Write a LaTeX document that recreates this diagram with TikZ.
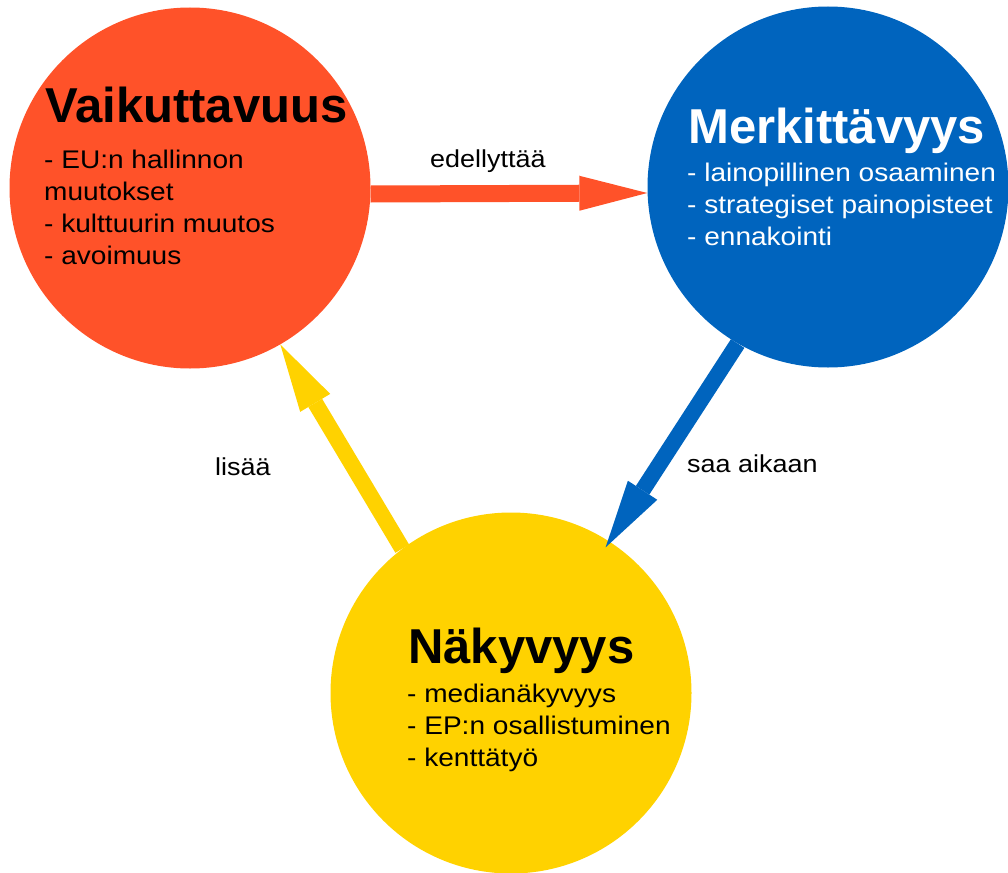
\documentclass[tikz,border=0pt]{standalone}
\usepackage{fontspec}
\setmainfont{Liberation Sans}
\newfontfamily\bodyf[FakeStretch=1.1]{Liberation Sans}
\usetikzlibrary{arrows.meta}
\definecolor{cred}{RGB}{255,82,41}
\definecolor{cblue}{RGB}{0,100,190}
\definecolor{cyellow}{RGB}{255,210,0}
\begin{document}
\begin{tikzpicture}[x=1pt,y=-1pt,
  bubble/.style={circle,minimum size=361pt,inner sep=0pt,draw=none},
  title/.style={anchor=base west,inner sep=0pt,font=\bfseries\fontsize{49}{49}\selectfont},
  item/.style={anchor=base west,inner sep=0pt,font=\bodyf\fontsize{25.5}{32}\selectfont},
  lbl/.style={anchor=base west,inner sep=0pt,font=\bodyf\fontsize{24.5}{30}\selectfont},
  bigarrow/.style={line width=#1,-{Triangle[width=35pt,length=68pt,line width=0pt]}},
]
\useasboundingbox (0,0) rectangle (1008,872);
% circles
\node[bubble,fill=cred] (red) at (190,188) {};
\node[bubble,fill=cblue] (blue) at (828,187) {};
\node[bubble,fill=cyellow] (yellow) at (511,693) {};
% arrows
\draw[bigarrow=17pt,cred] ([yshift=-6pt]red.east) -- ([yshift=-6pt]blue.west);
\draw[bigarrow=16pt,cblue,shorten >=-7pt] (blue.240) -- (yellow.57);
\draw[bigarrow=16pt,cyellow] (yellow.127) -- (red.300);
% labels
\node[lbl] (l1) at (430,167) {edellyttää};
\node[lbl] (l2) at (687,472) {saa aikaan};
\node[lbl] (l3) at (215,475) {lisää};
% red text
\node[title] (t1) at (45,122) {Vaikuttavuus};
\node[item] (r1) at (44,168) {- EU:n hallinnon};
\node[item] (r2) at (44,200) {muutokset};
\node[item] (r3) at (44,232) {- kulttuurin muutos};
\node[item] (r4) at (44,264) {- avoimuus};
% blue text
\node[title,text=white] (t2) at (688,143) {Merkittävyys};
\node[item,text=white] (b1) at (687,181) {- lainopillinen osaaminen};
\node[item,text=white] (b2) at (687,213) {- strategiset painopisteet};
\node[item,text=white] (b3) at (687,245) {- ennakointi};
% yellow text
\node[title] (t3) at (408,663) {Näkyvyys};
\node[item] (y1) at (407,702) {- medianäkyvyys};
\node[item] (y2) at (407,734) {- EP:n osallistuminen};
\node[item] (y3) at (407,766) {- kenttätyö};
\end{tikzpicture}
\end{document}
